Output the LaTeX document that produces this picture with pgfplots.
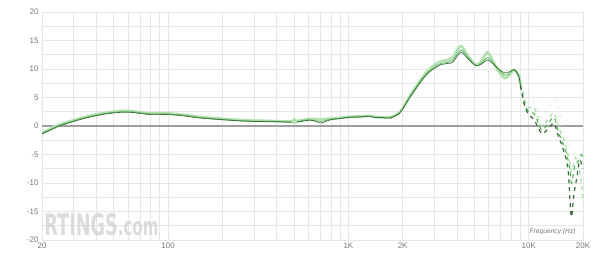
\documentclass[border=0pt]{standalone}
\usepackage{fontspec}
\setmainfont{Liberation Sans}
\newfontfamily\wmfont{DejaVu Sans Condensed}
\usepackage{graphicx}
\usepackage{pgfplots}
\pgfplotsset{compat=1.18}
\definecolor{tickc}{HTML}{777777}
\definecolor{gridc}{HTML}{E6E6E6}
\definecolor{zeroc}{HTML}{9E9E9E}
\definecolor{cA}{HTML}{3A6A3A}
\definecolor{cB}{HTML}{5DB85D}
\definecolor{cC}{HTML}{B2E0B2}
\definecolor{cD}{HTML}{E3F4E3}
\definecolor{wm}{HTML}{D0D0D0}
\begin{document}
\begin{tikzpicture}[x=1pt,y=1pt]
\useasboundingbox (-31.5pt,-14.25pt) rectangle (418.5pt,180pt);
\begin{axis}[
  scale only axis, width=405.75pt, height=171pt,
  at={(0,0)}, anchor=south west,
  xmode=log, xmin=20, xmax=20000, ymin=-20, ymax=20,
  log basis x=10,
  xtick={20,100,1000,2000,10000,20000},
  xticklabels={20,100,1K,2K,10K,20K},
  minor xtick={30,40,50,60,70,80,90,200,300,400,500,600,700,800,900,3000,4000,5000,6000,7000,8000,9000},
  ytick={-20,-15,...,20},
  minor ytick={-17.5,-12.5,-7.5,-2.5,2.5,7.5,12.5,17.5},
  grid=both,
  major grid style={gridc, line width=0.6pt},
  minor grid style={gridc, line width=0.6pt},
  axis line style={gridc},
  tick style={draw=none},
  ticklabel style={font=\fontsize{6}{7}\selectfont, text=tickc},
  /pgf/number format/assume math mode=true,
  xticklabel style={yshift=1pt},
  yticklabel style={xshift=1pt},
  clip=true,
]
% watermark
\node[anchor=south west, inner sep=0pt, text=wm, opacity=0.75] at (rel axis cs:0.004,0.015) {\resizebox{85.5pt}{16.5pt}{\wmfont\bfseries RTINGS\fontsize{8.5}{9}\selectfont .com}};
% zero line
\addplot[zeroc, line width=0.9pt, forget plot] coordinates {(20,0) (20000,0)};
% Series D (very faint)
\addplot[cD, line width=0.7pt, smooth] coordinates {
(20,-1.0) (25,0.4) (30,1.2) (40,2.2) (50,2.7) (60,2.8) (70,2.6) (80,2.4) (100,2.3) (150,1.7) (200,1.4) (300,1.1) (500,0.9) (700,1.0) (1000,1.7) (1500,1.7) (1800,1.9) (2000,3.2) (2400,7.2) (2800,9.9) (3100,11.1) (3600,11.8) (4200,14.2) (5100,10.8) (5900,13.1) (6800,10.0) (7400,8.4) (8300,9.8) (8800,8.9) (9000,7.5)};
\addplot[cD, line width=0.7pt, dashed, smooth] coordinates {
(9000,7.5) (9600,5.0) (10500,4.6) (11800,1.5) (14000,4.5) (16000,-2.0) (18000,-5.0) (20000,-10.0)};
% Series C (light)
\addplot[cC, line width=2.0pt, smooth] coordinates {
(20,-1.2) (22,-0.6) (25,0.2) (30,1.0) (35,1.6) (40,2.0) (45,2.3) (50,2.5) (55,2.65) (60,2.65) (65,2.55) (70,2.4) (80,2.2) (90,2.2) (100,2.2) (120,2.0) (150,1.6) (200,1.25) (250,1.05) (300,0.95) (400,0.85) (500,0.8) (600,1.2) (700,1.2) (800,1.3) (900,1.45) (1000,1.6) (1200,1.7) (1300,1.8) (1400,1.6) (1600,1.5) (1700,1.5) (1800,1.8) (1900,2.2) (2000,3.1) (2200,5.3) (2400,7.1) (2600,8.7) (2800,9.9) (3100,11.0) (3300,11.4) (3600,11.6) (3800,12.0) (4200,14.0) (4600,12.3) (5100,10.7) (5500,11.5) (5900,12.9) (6300,11.5) (6800,9.6) (7400,8.4) (7800,8.9) (8300,9.8) (8800,8.8) (9000,7.4)};
\addplot[cC, line width=1.0pt, dashed, smooth] coordinates {
(9000,7.4) (9500,4.6) (10000,3.2) (10700,3.2) (11800,0.0) (12800,1.2) (13800,2.3) (14600,0.0) (15900,-3.0) (16800,-6.0) (17300,-8.0) (18200,-5.5) (19200,-8.0) (20000,-13.0)};
% Series B (medium)
\addplot[cB, line width=0.6pt, smooth] coordinates {
(20,-1.3) (22,-0.7) (25,0.1) (30,0.9) (35,1.5) (40,1.9) (45,2.2) (50,2.4) (55,2.5) (60,2.5) (65,2.45) (70,2.3) (80,2.1) (90,2.1) (100,2.1) (120,1.9) (150,1.5) (200,1.15) (250,0.95) (300,0.85) (400,0.8) (500,0.7) (600,1.1) (700,0.8) (800,1.2) (900,1.35) (1000,1.55) (1200,1.65) (1300,1.75) (1400,1.55) (1600,1.45) (1700,1.45) (1800,1.75) (1900,2.15) (2000,3.0) (2200,5.2) (2400,7.0) (2600,8.5) (2800,9.6) (3100,10.6) (3300,11.0) (3600,11.2) (3800,11.5) (4200,13.3) (4600,12.0) (5100,10.6) (5500,11.1) (5900,12.0) (6300,11.2) (6800,9.9) (7400,8.9) (7800,9.2) (8300,9.9) (8800,8.8) (9000,7.2)};
\addplot[cB, line width=0.9pt, dashed, smooth] coordinates {
(9000,7.2) (9500,3.9) (10000,2.5) (10700,2.2) (11800,-0.7) (12800,0.4) (13800,1.5) (14600,-1.0) (15900,-4.0) (16800,-7.0) (17300,-10.0) (18000,-7.0) (19000,-6.0) (19600,-5.0) (20000,-6.0)};
% Series A (dark)
\addplot[cA, line width=0.5pt, smooth] coordinates {
(20,-1.4) (22,-0.8) (25,0.0) (30,0.8) (35,1.4) (40,1.8) (45,2.1) (50,2.3) (55,2.4) (60,2.4) (65,2.35) (70,2.2) (80,2.0) (90,2.0) (100,2.0) (120,1.8) (150,1.4) (200,1.1) (250,0.9) (300,0.8) (400,0.75) (500,0.65) (550,0.8) (600,1.0) (650,0.9) (700,0.5) (750,0.8) (800,1.1) (900,1.3) (1000,1.5) (1200,1.6) (1300,1.7) (1400,1.5) (1500,1.5) (1600,1.4) (1700,1.4) (1800,1.7) (1900,2.1) (2000,3.0) (2200,5.1) (2400,6.8) (2600,8.3) (2800,9.4) (3100,10.4) (3300,10.8) (3600,11.0) (3800,11.2) (4200,12.9) (4600,11.8) (5100,10.6) (5500,10.9) (5900,11.6) (6300,11.0) (6800,10.0) (7400,9.3) (7800,9.5) (8300,9.9) (8800,8.8) (9000,7.0)};
\addplot[cA, line width=0.9pt, dashed, smooth] coordinates {
(9000,7.0) (9500,3.5) (10000,2.0) (10700,1.1) (11800,-1.3) (12800,-0.5) (13800,0.5) (14500,-1.5) (15500,-4.0) (16500,-7.5) (17200,-15.9) (17800,-12.0) (18500,-9.0) (19200,-6.0) (20000,-7.5)};
% marker dot
\addplot[only marks, mark=*, mark size=2pt, cC, forget plot] coordinates {(500,0.85)};
% label
\node[anchor=south east, font=\fontsize{5}{6}\selectfont\itshape, text=tickc] at (rel axis cs:0.995,0.0) {Frequency (Hz)};
\end{axis}
\end{tikzpicture}
\end{document}
